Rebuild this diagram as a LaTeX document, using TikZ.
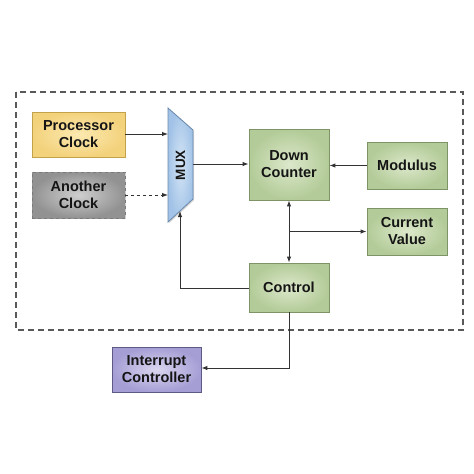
\documentclass[tikz,border=0pt]{standalone}
\usepackage{fontspec}
\setmainfont{Liberation Sans}
\usetikzlibrary{arrows.meta,shadows}
\definecolor{txt}{HTML}{151515}
\definecolor{wire}{HTML}{333333}
\definecolor{gin}{HTML}{DCE8CB}
\definecolor{gout}{HTML}{B3CB98}
\definecolor{gbd}{HTML}{7E9467}
\definecolor{yin}{HTML}{FBE9B0}
\definecolor{yout}{HTML}{F3D27C}
\definecolor{ybd}{HTML}{C4A24A}
\definecolor{ain}{HTML}{CFCFCF}
\definecolor{aout}{HTML}{929292}
\definecolor{abd}{HTML}{7A7A7A}
\definecolor{pin}{HTML}{DAD6EF}
\definecolor{pout}{HTML}{A59ED5}
\definecolor{pbd}{HTML}{5E5A86}
\definecolor{min}{HTML}{D3E4F5}
\definecolor{mout}{HTML}{A2C3E7}
\definecolor{mbd}{HTML}{6886AA}
\begin{document}
\begin{tikzpicture}[x=1pt,y=-1pt,
  blk/.style={draw, line width=0.8pt, align=center, font=\bfseries\fontsize{14.5}{17}\selectfont, text=txt,
    shading=radial, drop shadow={shadow xshift=1.2pt, shadow yshift=-1.2pt, opacity=0.3}},
  greenblk/.style={blk, draw=gbd, inner color=gin, outer color=gout},
  wire/.style={draw=wire, line width=1pt},
  arr/.style={wire, -{Latex[length=6pt,width=4.5pt]}},
  darr/.style={wire, {Latex[length=6pt,width=4.5pt]}-{Latex[length=6pt,width=4.5pt]}}
]
\useasboundingbox[fill=white] (0,0) rectangle (474,474);

% outer dashed frame
\draw[draw=black!65, line width=1.2pt, dash pattern=on 6pt off 4pt] (16,92) rectangle (463,330);

% blocks
\node[blk, draw=ybd, inner color=yin, outer color=yout,
  minimum width=93pt, minimum height=45pt] (pc) at (78.5,134.5) {Processor\\Clock};
\node[blk, draw=abd, dashed, inner color=ain, outer color=aout,
  minimum width=93pt, minimum height=46pt] (ac) at (78.5,195) {Another\\Clock};
\node[greenblk, minimum width=80pt, minimum height=71pt] (dc) at (289,164.5) {Down\\Counter};
\node[greenblk, minimum width=80pt, minimum height=47pt] (mod) at (407,165.5) {Modulus};
\node[greenblk, minimum width=80pt, minimum height=47pt] (cv) at (407,231.5) {Current\\Value};
\node[greenblk, minimum width=80pt, minimum height=49pt] (ctl) at (289,287.5) {Control};
\node[blk, draw=pbd, inner color=pin, outer color=pout,
  minimum width=89pt, minimum height=45pt] (ic) at (156.5,369.5) {Interrupt\\Controller};

% MUX
\path[draw=mbd, line width=0.8pt, shading=radial, inner color=min, outer color=mout,
  drop shadow={shadow xshift=1.2pt, shadow yshift=-1.2pt, opacity=0.3}]
  (168,108) -- (193,130) -- (193,199) -- (168,222) -- cycle;
\node[rotate=90, font=\bfseries\fontsize{13.5}{16}\selectfont, text=txt] (mux) at (180.5,165) {MUX};
\coordinate (muxin1) at (168,134);
\coordinate (muxin2) at (168,195);
\coordinate (muxout) at (193,164);
\coordinate (muxsel) at (180,211);
\coordinate (fb) at (180,288);
\coordinate (br) at (289,231.5);
\coordinate (ctlturn) at (289,368);

% connectors
\draw[arr] (pc.east |- muxin1) -- (muxin1);
\draw[arr, dashed] (ac.east |- muxin2) -- (muxin2);
\draw[arr] (muxout) -- (dc.west |- muxout);
\draw[arr] (mod.west) -- (dc.east |- mod.west);
\draw[darr] (dc.south) -- (ctl.north);
\draw[arr] (br) -- (cv.west);
\draw[arr] (ctl.west |- fb) -- (fb) -- (muxsel);
\draw[arr] (ctl.south) -- (ctlturn) -- (ic.east |- ctlturn);
\end{tikzpicture}
\end{document}
